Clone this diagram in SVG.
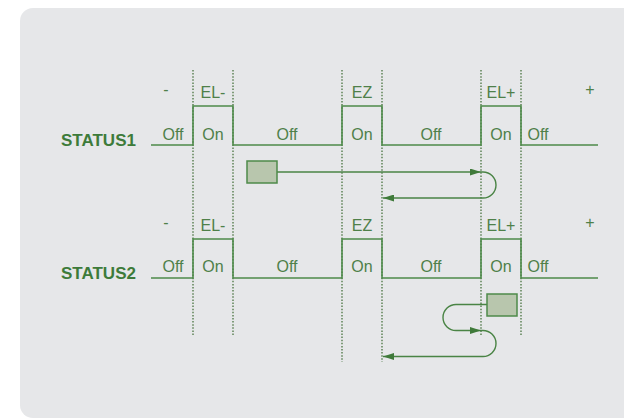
<svg xmlns="http://www.w3.org/2000/svg" width="624" height="419" viewBox="0 0 624 419">
<defs>
<marker id="arr" viewBox="0 0 11 7" refX="11" refY="3.5" markerWidth="11" markerHeight="7" markerUnits="userSpaceOnUse" orient="auto">
<path d="M0,0 L11,3.5 L0,7 Z" fill="#3f7a3a"/>
</marker>
<style>
.lbl{font-family:"Liberation Sans",Arial,sans-serif;font-size:16px;fill:#4f8049;text-anchor:middle}
.st{font-family:"Liberation Sans",Arial,sans-serif;font-size:17px;font-weight:bold;fill:#3d7b3a}
.wave{fill:none;stroke:#4e8a4a;stroke-width:1.6}
.dot{stroke:#7f9b7a;stroke-width:2;stroke-dasharray:1.5 1.6}
.conn{fill:none;stroke:#4a8445;stroke-width:1.4}
.box{fill:#b8c6ad;stroke:#4e8a4a;stroke-width:1.5}
</style>
</defs>
<rect x="0" y="0" width="624" height="419" fill="#ffffff"/>
<rect x="20" y="8" width="620" height="410" rx="13" fill="#e6e7e9"/>
<g id="guides">
<line class="dot" x1="193" y1="70" x2="193" y2="335"/>
<line class="dot" x1="233" y1="70" x2="233" y2="335"/>
<line class="dot" x1="342" y1="70" x2="342" y2="362"/>
<line class="dot" x1="382" y1="70" x2="382" y2="362"/>
<line class="dot" x1="481" y1="70" x2="481" y2="335"/>
<line class="dot" x1="521" y1="70" x2="521" y2="335"/>
</g>
<g id="status1">
<text class="st" x="61" y="146">STATUS1</text>
<path class="wave" d="M151,145 H193 V106 H233 V145 H342 V106 H382 V145 H481 V106 H521 V145 H598"/>
<text class="lbl" x="166" y="95">-</text>
<text class="lbl" x="213" y="98">EL-</text>
<text class="lbl" x="362" y="98">EZ</text>
<text class="lbl" x="501" y="98">EL+</text>
<text class="lbl" x="590" y="95">+</text>
<text class="lbl" x="173" y="140">Off</text>
<text class="lbl" x="213" y="140">On</text>
<text class="lbl" x="287" y="140">Off</text>
<text class="lbl" x="362" y="140">On</text>
<text class="lbl" x="431" y="140">Off</text>
<text class="lbl" x="501" y="140">On</text>
<text class="lbl" x="538" y="140">Off</text>
</g>
<g id="status2">
<text class="st" x="61" y="279">STATUS2</text>
<path class="wave" d="M151,278 H193 V239 H233 V278 H342 V239 H382 V278 H481 V239 H521 V278 H598"/>
<text class="lbl" x="166" y="228">-</text>
<text class="lbl" x="213" y="231">EL-</text>
<text class="lbl" x="362" y="231">EZ</text>
<text class="lbl" x="501" y="231">EL+</text>
<text class="lbl" x="590" y="228">+</text>
<text class="lbl" x="173" y="272">Off</text>
<text class="lbl" x="213" y="272">On</text>
<text class="lbl" x="287" y="272">Off</text>
<text class="lbl" x="362" y="272">On</text>
<text class="lbl" x="431" y="272">Off</text>
<text class="lbl" x="501" y="272">On</text>
<text class="lbl" x="538" y="272">Off</text>
</g>
<g id="connectors">
<path class="conn" d="M277,172 H481" marker-end="url(#arr)"/>
<path class="conn" d="M481,172 H483 A13,13 0 0 1 483,198 H383" marker-end="url(#arr)"/>
<path class="conn" d="M487,304.5 H456 A13,13 0 0 0 456,330.5 H481" marker-end="url(#arr)"/>
<path class="conn" d="M481,330.5 H483 A13,13 0 0 1 483,356.5 H383" marker-end="url(#arr)"/>
</g>
<g id="box1"><rect class="box" x="247" y="161" width="30" height="22"/></g>
<g id="box2"><rect class="box" x="487" y="294" width="30" height="22"/></g>
</svg>
